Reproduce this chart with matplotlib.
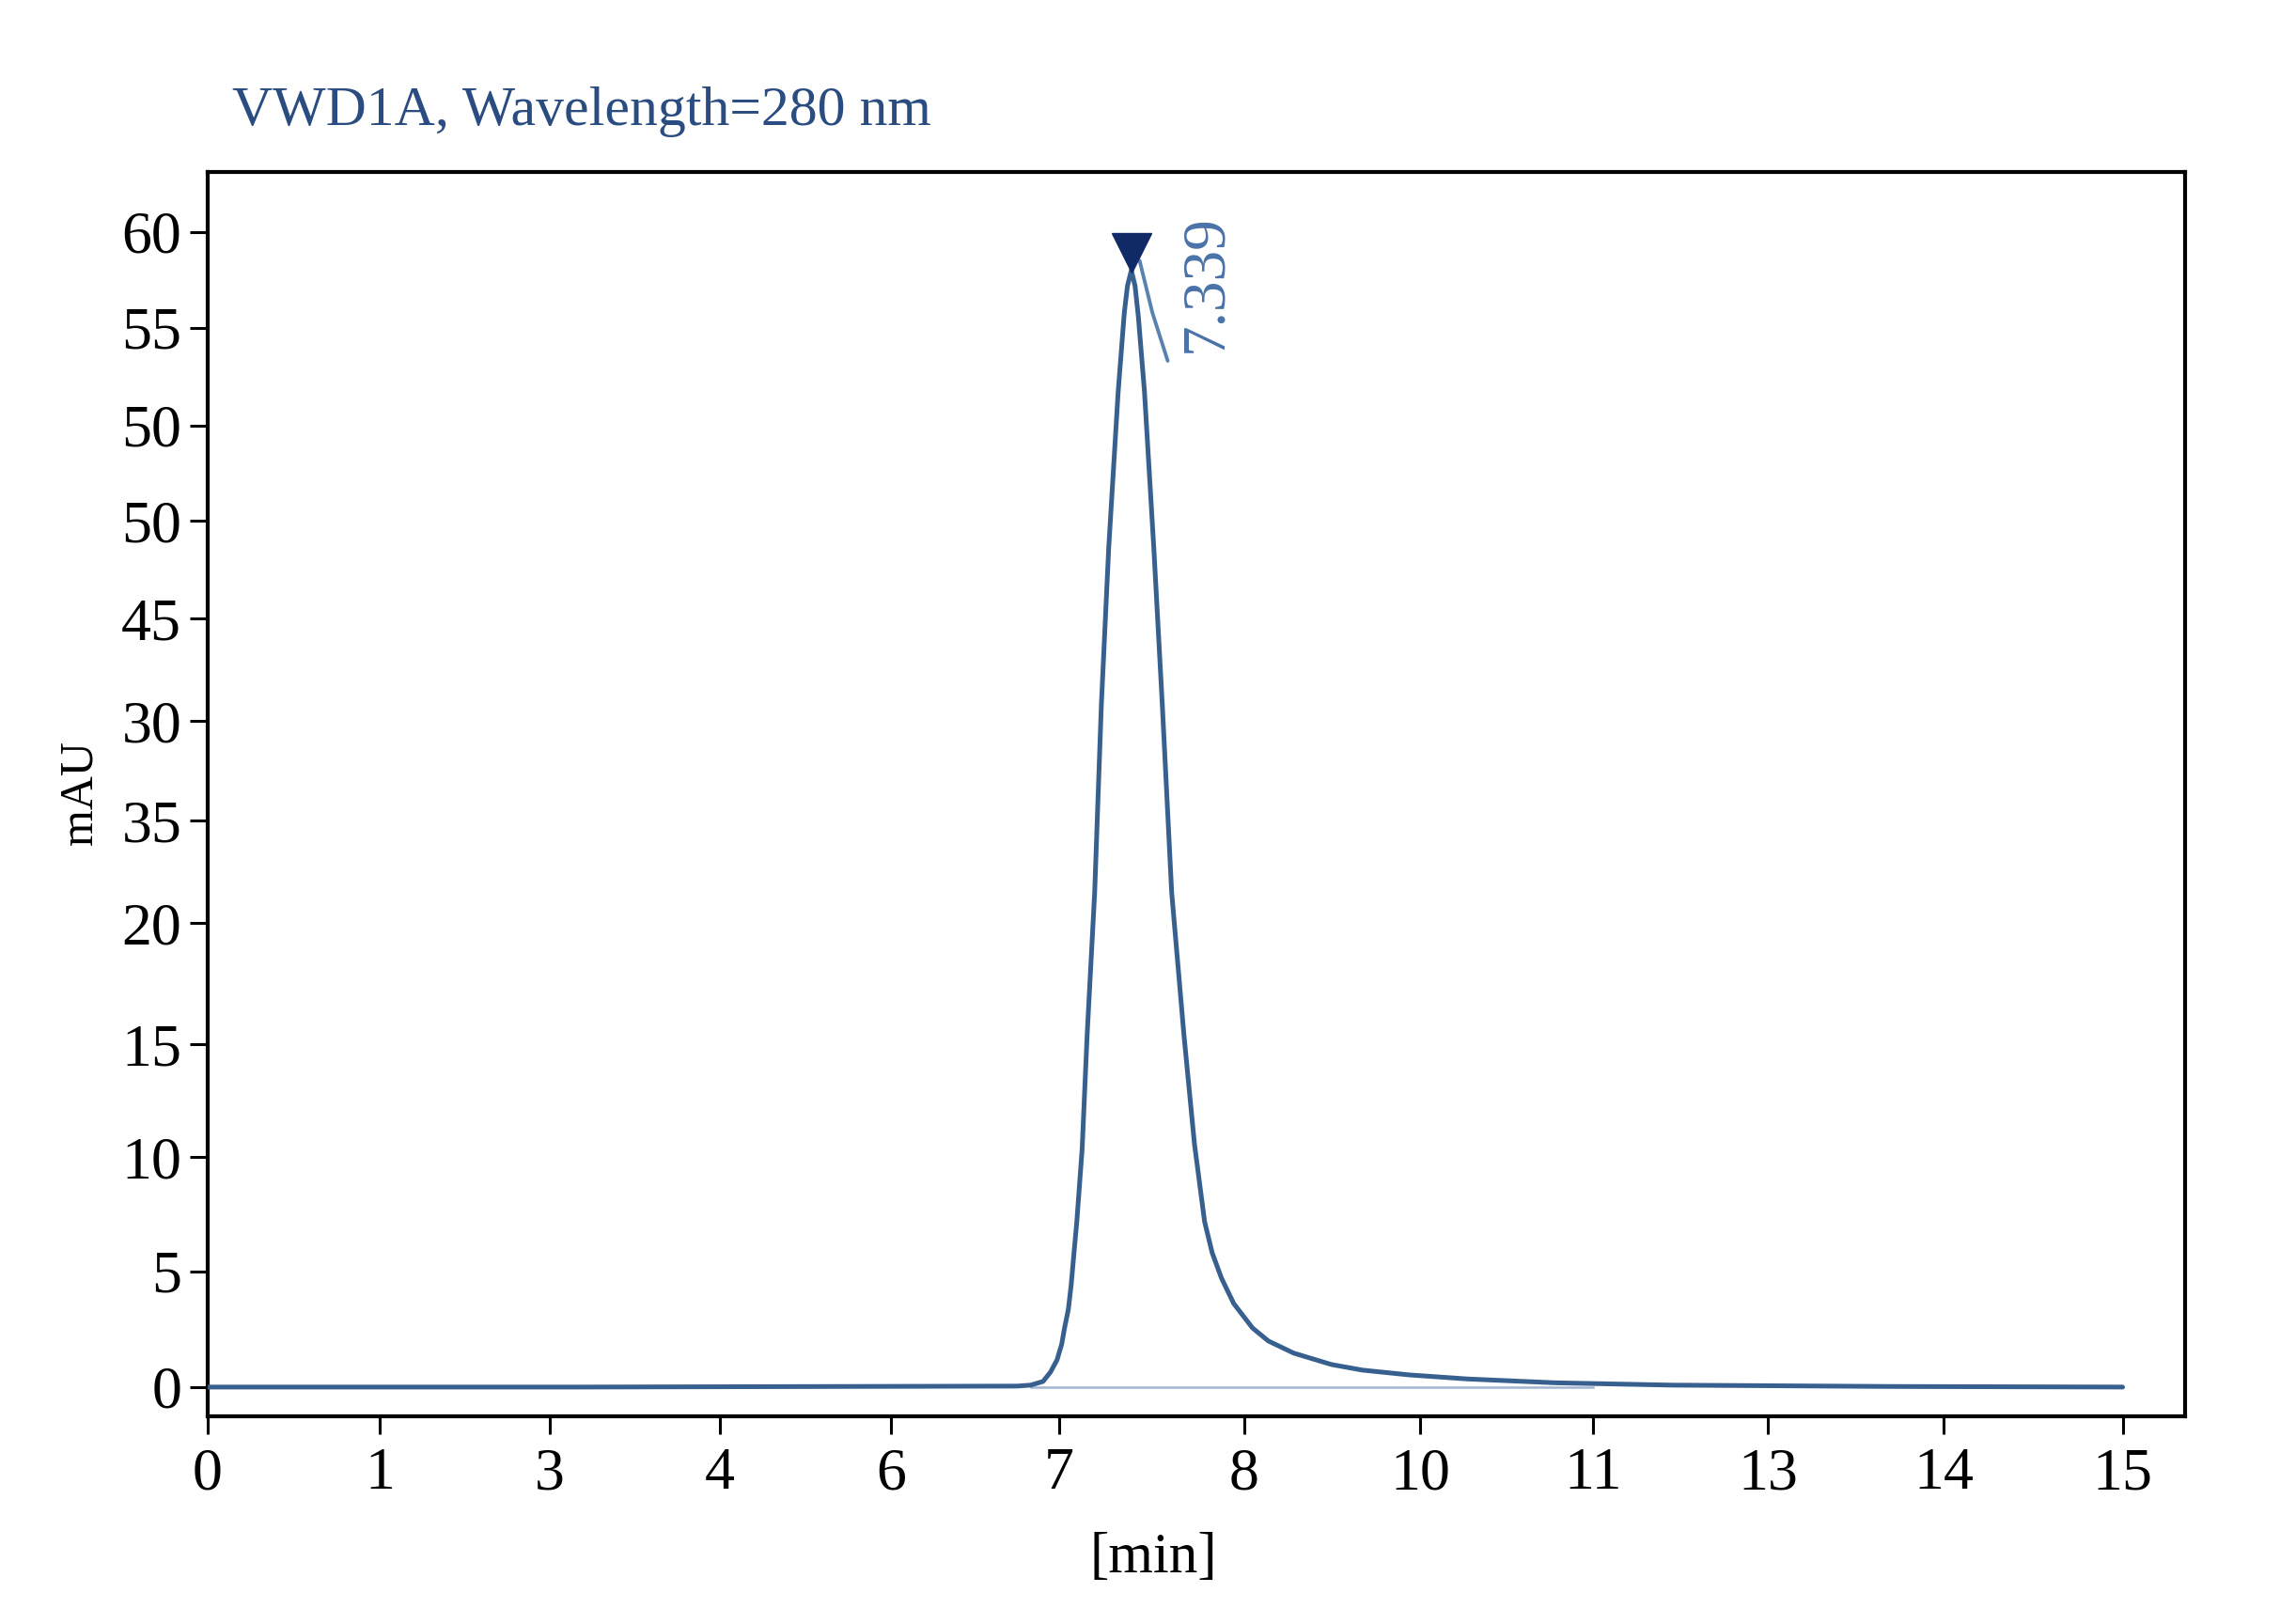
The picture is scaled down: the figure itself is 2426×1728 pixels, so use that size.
import numpy as np
import matplotlib.pyplot as plt

# signal trace (axis units: x in min-scale of the plot, y in mAU-scale of the plot)
time_pts = [0.0, 2.93, 6.34, 6.447, 6.543, 6.602, 6.653, 6.690, 6.712, 6.742, 6.764,
            6.786, 6.808, 6.85, 6.889, 6.948, 7.000, 7.058, 7.132, 7.18, 7.205, 7.235,
            7.264, 7.29, 7.338, 7.411, 7.478, 7.551, 7.647, 7.73, 7.809, 7.868, 7.941,
            8.037, 8.184, 8.309, 8.508, 8.803, 9.045, 9.413, 9.87, 10.56, 11.47, 13.18,
            15.0]
signal = [0.0, 0.0, 0.05, 0.1, 0.29, 0.78, 1.41, 2.24, 3.07, 4.05, 5.32,
          6.98, 8.59, 12.4, 18.3, 25.7, 35.4, 43.6, 51.7, 55.8, 57.2, 58.0,
          57.2, 55.6, 51.7, 43.6, 35.4, 25.7, 18.3, 12.6, 8.59, 6.98, 5.66,
          4.34, 3.07, 2.39, 1.76, 1.17, 0.88, 0.63, 0.42, 0.22, 0.1, 0.03,
          0.0]

# integration baseline and peak mark
base_x = [6.45, 10.85]
base_y = [0.0, 0.0]
peak_x = 7.235
peak_y = 58.9
peak_label = "7.339"
stub_x = [7.30, 7.40, 7.52]
stub_y = [58.5, 55.8, 53.3]

# tick labels as printed on the chart
xtick_pos = [0, 1.347, 2.679, 4.01, 5.35, 6.67, 8.12, 9.50, 10.85, 12.22, 13.60, 15.0]
xtick_labels = ['0', '1', '3', '4', '6', '7', '8', '10', '11', '13', '14', '15']
ytick_pos = [60, 55.02, 49.95, 44.98, 39.90, 34.59, 29.41, 24.10, 17.80, 11.95, 6.0, 0]
ytick_labels = ['60', '55', '50', '50', '45', '30', '35', '20', '15', '10', '5', '0']

plt.rcParams['font.family'] = ['Liberation Serif', 'DejaVu Serif']

fig = plt.figure(figsize=(24.26, 17.28), dpi=100)
ax = fig.add_axes([0.0911, 0.128, 0.8673, 0.766])

line_col = '#37608e'
ax.plot(base_x, base_y, color='#a3b5d0', lw=1.8, zorder=2)
ax.plot(time_pts, signal, color=line_col, lw=3.6, zorder=3,
        solid_joinstyle='round', solid_capstyle='round')
ax.plot(stub_x, stub_y, color='#5a82b0', lw=2.8, zorder=3, solid_capstyle='round')
ax.plot([peak_x], [peak_y], marker='v', markersize=30, color='#0f2a66',
        markeredgecolor='#0f2a66', zorder=4)
ax.text(7.82, 57.3, peak_label, rotation=90, ha='center', va='center',
        fontsize=47, color='#4a72a8')

ax.set_xlim(0, 15.49)
ax.set_ylim(-1.51, 63.1)
ax.set_xticks(xtick_pos)
ax.set_xticklabels(xtick_labels)
ax.set_yticks(ytick_pos)
ax.set_yticklabels(ytick_labels)
ax.tick_params(axis='both', direction='out', length=14, width=2.2,
               labelsize=46, colors='black')
ax.tick_params(axis='x', pad=10)
ax.tick_params(axis='y', pad=6)
for sp in ax.spines.values():
    sp.set_linewidth(3.0)
    sp.set_color('black')

fig.text(0.0352, 0.512, 'mAU', rotation=90, ha='center', va='center', fontsize=36)
fig.text(0.5058, 0.0405, '[min]', ha='center', va='center', fontsize=44)
fig.text(0.1018, 0.931, 'VWD1A, Wavelength=280 nm', ha='left', va='center',
         fontsize=43, color='#2b4c80')

fig.savefig('out.png', dpi=100, facecolor='white')
